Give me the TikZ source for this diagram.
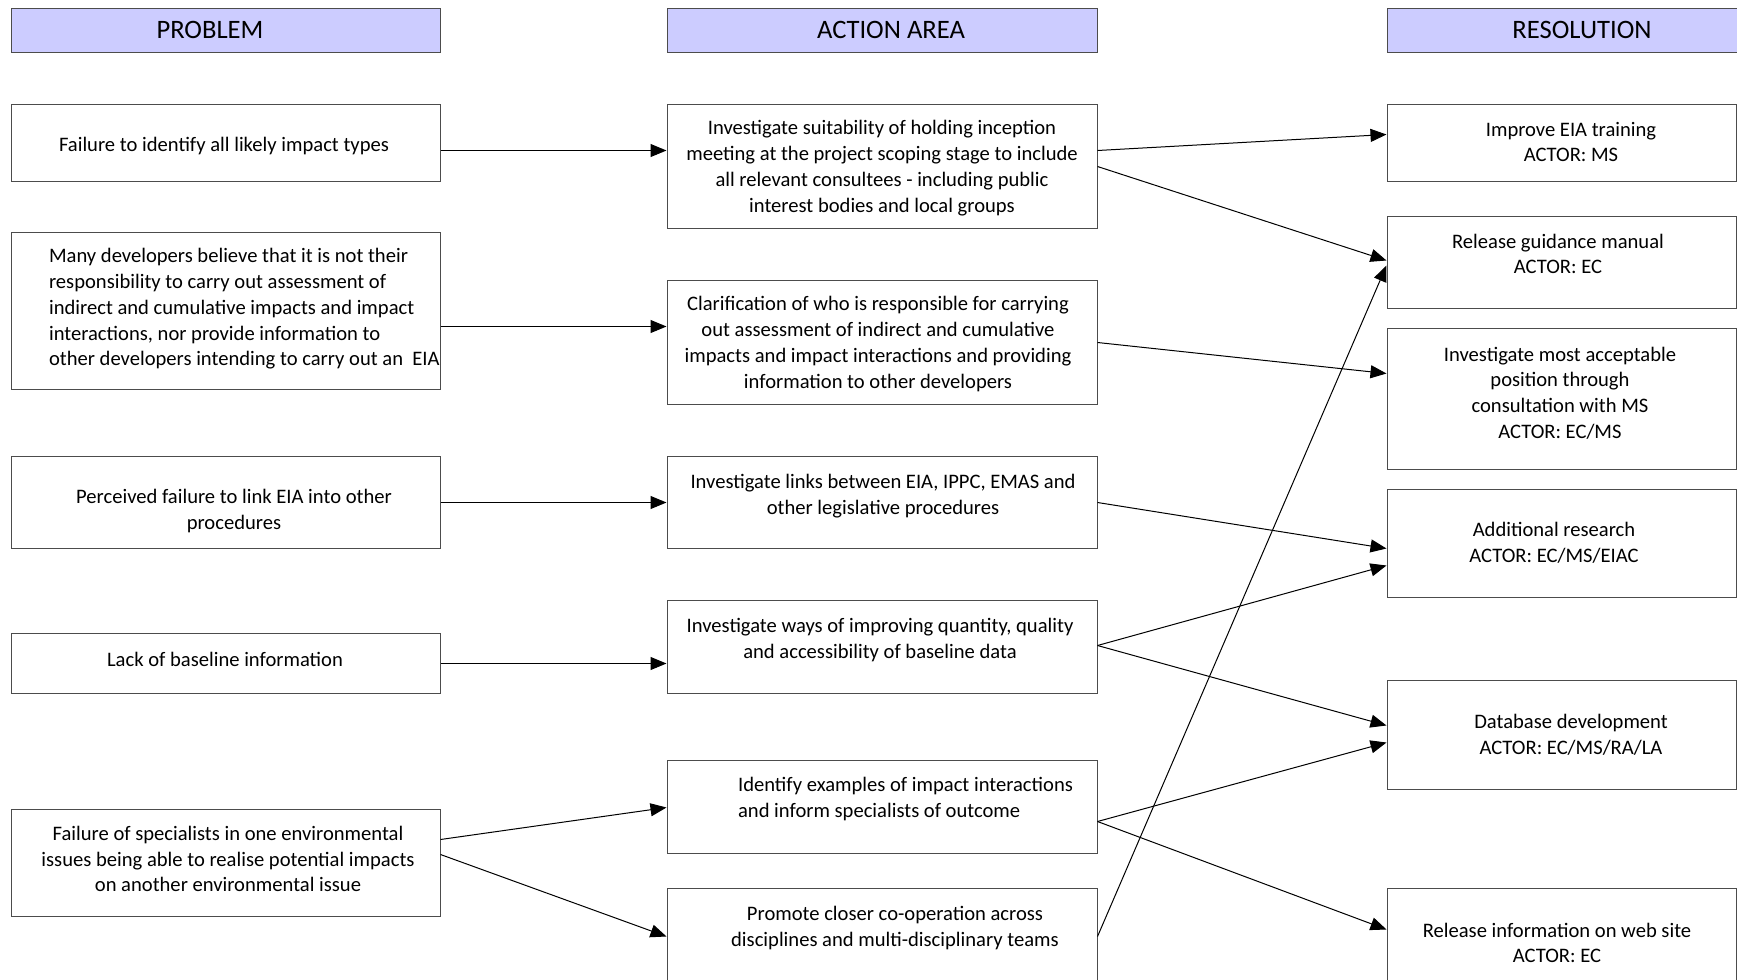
\documentclass[tikz,border=0pt]{standalone}
\usepackage{fontspec}
\setmainfont{Carlito}
\usetikzlibrary{fit,calc,arrows.meta}
\definecolor{myheadblue}{RGB}{204,204,255}
\definecolor{myframe}{gray}{.3}
\newcommand{\bodyfont}{\fontsize{10.3}{12.9}\selectfont}
\newcommand{\headfont}{\fontsize{13.3}{15}\selectfont}
\tikzset{
    common/.style={draw=myframe, rectangle, inner sep=0pt, line width=0.5pt},
    header/.style={common, fill=myheadblue},
    card/.style={common, fill=white},
    headtext/.style={font=\headfont},
    cardtext/.style={font=\bodyfont, align=center, yshift=-1pt},
    lefttext/.style={font=\bodyfont, align=left, anchor=west, yshift=-1pt},
    link/.style={-{Triangle[length=8pt, width=6.5pt]}, line width=0.5pt}
}

\begin{document}
\begin{tikzpicture}[x=0.5pt, y=-0.5pt]
    \clip (0,0) rectangle (1737,980);
    \fill[white] (0,0) rectangle (1737,980);

    % column heads
    \node[header, fit={(11,8) (440,52)}] (H-problem) {};
    \node[header, fit={(667,8) (1097,52)}] (H-action) {};
    \node[header, fit={(1387,8) (1760,52)}] (H-resolution) {};
    \node[headtext] (H-problem-text) at (210,30) {PROBLEM};
    \node[headtext] (H-action-text) at (891,30) {ACTION AREA};
    \node[headtext] (H-resolution-text) at (1582,30) {RESOLUTION};

    % problems
    \node[card, fit={(11,104) (440,181)}] (P1) {};
    \node[card, fit={(11,232) (440,389)}] (P2) {};
    \node[card, fit={(11,456) (440,548)}] (P3) {};
    \node[card, fit={(11,633) (440,693)}] (P4) {};
    \node[card, fit={(11,809) (440,916)}] (P5) {};
    \node[cardtext] (P1-text) at (224,144) {Failure to identify all likely impact types};
    \node[lefttext] (P2-text) at (42,307) {Many developers believe that it is not their\\responsibility to carry out assessment of\\indirect and cumulative impacts and impact\\interactions, nor provide information to\\other developers intending to carry out an\ \ EIA};
    \node[cardtext] (P3-text) at (234,509) {Perceived failure to link EIA into other\\procedures};
    \node[cardtext] (P4-text) at (225,657) {Lack of baseline information};
    \node[cardtext] (P5-text) at (228,857) {Failure of specialists in one environmental\\issues being able to realise potential impacts\\on another environmental issue};

    % action areas
    \node[card, fit={(667,104) (1097,228)}] (A1) {};
    \node[card, fit={(667,280) (1097,404)}] (A2) {};
    \node[card, fit={(667,456) (1097,548)}] (A3) {};
    \node[card, fit={(667,600) (1097,693)}] (A4) {};
    \node[card, fit={(667,760) (1097,853)}] (A5) {};
    \node[card, fit={(667,888) (1097,1010)}] (A6) {};
    \node[cardtext] (A1-text) at (882,166) {Investigate suitability of holding inception\\meeting at the project scoping stage to include\\all relevant consultees - including public\\interest bodies and local groups};
    \node[cardtext] (A2-text) at (878,342) {Clarification of who is responsible for carrying\\out assessment of indirect and cumulative\\impacts and impact interactions and providing\\information to other developers};
    \node[cardtext] (A3-text) at (883,494) {Investigate links between EIA, IPPC, EMAS and\\other legislative procedures};
    \node[cardtext] (A4-text) at (880,638) {Investigate ways of improving quantity, quality\\and accessibility of baseline data};
    \node[lefttext] (A5-text) at (731,797) {Identify examples of impact interactions\\and inform specialists of outcome};
    \node[cardtext] (A6-text) at (895,926) {Promote closer co-operation across\\disciplines and multi-disciplinary teams};

    % resolutions
    \node[card, fit={(1387,104) (1736,181)}] (R1) {};
    \node[card, fit={(1387,216) (1736,308)}] (R2) {};
    \node[card, fit={(1387,328) (1736,469)}] (R3) {};
    \node[card, fit={(1387,489) (1736,597)}] (R4) {};
    \node[card, fit={(1387,680) (1736,789)}] (R5) {};
    \node[card, fit={(1387,888) (1736,1010)}] (R6) {};
    \node[cardtext] (R1-text) at (1571,140) {Improve EIA training\\ACTOR: MS};
    \node[cardtext] (R2-text) at (1558,252) {Release guidance manual\\ACTOR: EC};
    \node[cardtext] (R3-text) at (1560,391) {Investigate most acceptable\\position through\\consultation with MS\\ACTOR: EC/MS};
    \node[cardtext] (R4-text) at (1554,541) {Additional research\\ACTOR: EC/MS/EIAC};
    \node[cardtext] (R5-text) at (1571,733) {Database development\\ACTOR: EC/MS/RA/LA};
    \node[cardtext] (R6-text) at (1557,941) {Release information on web site\\ACTOR: EC};

    % problem -> action
    \draw[link] ($(P1.north east)+(0,47)$) -- ($(A1.north west)+(0,47)$);
    \draw[link] ($(P2.north east)+(0,95)$) -- ($(A2.north west)+(0,47)$);
    \draw[link] ($(P3.north east)+(0,47)$) -- ($(A3.north west)+(0,47)$);
    \draw[link] ($(P4.north east)+(0,31)$) -- ($(A4.north west)+(0,64)$);
    \draw[link] ($(P5.north east)+(0,31)$) -- ($(A5.north west)+(0,48)$);
    \draw[link] ($(P5.north east)+(0,46)$) -- ($(A6.north west)+(0,49)$);

    % action -> resolution
    \draw[link] ($(A1.north east)+(0,47)$) -- ($(R1.north west)+(0,31)$);
    \draw[link] ($(A1.north east)+(0,63)$) -- ($(R2.north west)+(0,45)$);
    \draw[link] ($(A2.north east)+(0,63)$) -- ($(R3.north west)+(0,46)$);
    \draw[link] ($(A3.north east)+(0,47)$) -- ($(R4.north west)+(0,60)$);
    \draw[link] ($(A4.north east)+(0,46)$) -- ($(R4.north west)+(0,77)$);
    \draw[link] ($(A4.north east)+(0,46)$) -- ($(R5.north west)+(0,46)$);
    \draw[link] ($(A5.north east)+(0,62)$) -- ($(R5.north west)+(0,63)$);
    \draw[link] ($(A5.north east)+(0,62)$) -- ($(R6.north west)+(0,42)$);
    \draw[link] ($(A6.north east)+(0,49)$) -- ($(R2.north west)+(0,50)$);
\end{tikzpicture}
\end{document}
